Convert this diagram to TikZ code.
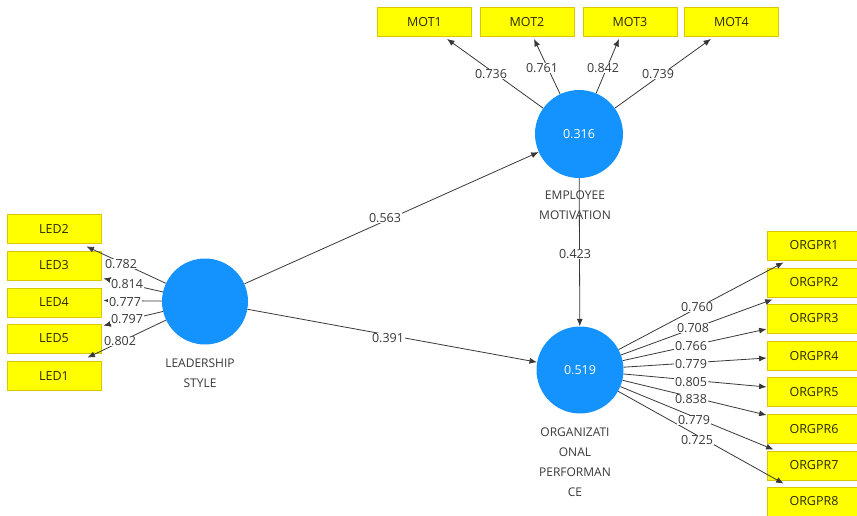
\documentclass[tikz,border=0pt]{standalone}
\usepackage{fontspec}
\setmainfont{Open Sans}
\usetikzlibrary{arrows.meta}
\definecolor{indfill}{HTML}{FFFF00}
\definecolor{indline}{HTML}{D9C800}
\definecolor{lvfill}{HTML}{1493FF}
\definecolor{lncol}{HTML}{383838}
\definecolor{indtext}{HTML}{2B2B00}
\tikzset{
  indbox/.style={rectangle, fill=indfill, draw=indline, line width=0.8pt,
    minimum width=94pt, minimum height=29pt, inner sep=0pt,
    text=indtext, font=\fontsize{12.5}{14}\selectfont},
  lvcirc/.style={circle, fill=lvfill, draw=none, minimum size=87pt, inner sep=0pt,
    text=white, font=\fontsize{12.5}{14}\selectfont},
  captxt/.style={align=center, text=lncol, font=\fontsize{12}{20}\selectfont, inner sep=0pt},
  coef/.style={fill=white, inner sep=0.8pt, text=lncol, font=\fontsize{12.5}{14}\selectfont},
  conn/.style={draw=lncol, line width=0.8pt, -{Latex[length=7.5pt,width=6pt]}},
}
\begin{document}
\begin{tikzpicture}[x=1pt,y=-1pt]
\useasboundingbox (0,0) rectangle (857,515);
% latent variables
\node[lvcirc, minimum size=86pt] (ls) at (205,301.5) {};
\node[lvcirc, minimum size=88pt] (em) at (579,134) {0.316};
\node[lvcirc] (op) at (580,370) {0.519};
% LED indicators
\node[indbox] (led2) at (54,229) {LED2};
\node[indbox] (led3) at (54,265.5) {LED3};
\node[indbox] (led4) at (54,302.5) {LED4};
\node[indbox] (led5) at (54,338.5) {LED5};
\node[indbox] (led1) at (54,376) {LED1};
% MOT indicators
\node[indbox] (mot1) at (424.5,22) {MOT1};
\node[indbox] (mot2) at (527,22) {MOT2};
\node[indbox] (mot3) at (630,22) {MOT3};
\node[indbox] (mot4) at (731.5,22) {MOT4};
% ORGPR indicators
\node[indbox] (org1) at (814,245.5) {ORGPR1};
\node[indbox] (org2) at (814,282.5) {ORGPR2};
\node[indbox] (org3) at (814,318.5) {ORGPR3};
\node[indbox] (org4) at (814,356) {ORGPR4};
\node[indbox] (org5) at (814,392) {ORGPR5};
\node[indbox] (org6) at (814,429) {ORGPR6};
\node[indbox] (org7) at (814,465.5) {ORGPR7};
\node[indbox] (org8) at (814,501.5) {ORGPR8};
% connectors LS -> LED
\draw[conn] (ls) -- ([xshift=-15pt,yshift=-2.5pt]led2.south east);
\draw[conn] (ls) -- ([xshift=2pt,yshift=2pt]led3.south east);
\draw[conn] (ls) -- ([xshift=2pt,yshift=2pt]led4.east);
\draw[conn] (ls) -- ([xshift=2pt,yshift=-2pt]led5.north east);
\draw[conn] (ls) -- ([xshift=-14pt,yshift=3.5pt]led1.north east);
% connectors EM -> MOT
\draw[conn] (em) -- ([xshift=22.5pt,yshift=-2pt]mot1.south);
\draw[conn] (em) -- ([xshift=7pt,yshift=-2pt]mot2.south);
\draw[conn] (em) -- ([xshift=-11pt,yshift=-2pt]mot3.south);
\draw[conn] (em) -- ([xshift=-20.5pt,yshift=-2pt]mot4.south);
% connectors OP -> ORGPR
\draw[conn] (op) -- ([xshift=17pt,yshift=-2pt]org1.south west);
\draw[conn] (op) -- ([xshift=6pt,yshift=-2pt]org2.south west);
\draw[conn] (op) -- ([yshift=-10.5pt]org3.west);
\draw[conn] (op) -- ([yshift=-2pt]org4.west);
\draw[conn] (op) -- ([yshift=5pt]org5.west);
\draw[conn] (op) -- ([yshift=-1pt]org6.north west);
\draw[conn] (op) -- ([xshift=7pt,yshift=1pt]org7.north west);
\draw[conn] (op) -- ([xshift=17pt,yshift=3pt]org8.north west);
% structural paths
\draw[conn] (ls) -- (em);
\draw[conn] (ls) -- (op);
\draw[conn] (em) -- (op);
% coefficient labels
\node[coef] (c1) at (121,264) {0.782};
\node[coef] (c2) at (127,284) {0.814};
\node[coef] (c3) at (125,302) {0.777};
\node[coef] (c4) at (127,319) {0.797};
\node[coef] (c5) at (120,341) {0.802};
\node[coef] (c6) at (491,74) {0.736};
\node[coef] (c7) at (542,68) {0.761};
\node[coef] (c8) at (603,68) {0.842};
\node[coef] (c9) at (658,74) {0.739};
\node[coef] (c10) at (697,307) {0.760};
\node[coef] (c11) at (693,328) {0.708};
\node[coef] (c12) at (691,346) {0.766};
\node[coef] (c13) at (691,364) {0.779};
\node[coef] (c14) at (691,382) {0.805};
\node[coef] (c15) at (691,399) {0.838};
\node[coef] (c16) at (694,420) {0.779};
\node[coef] (c17) at (697,440) {0.725};
\node[coef] (c18) at (385,218) {0.563};
\node[coef] (c19) at (388,338) {0.391};
\node[coef] (c20) at (575,254) {0.423};
% captions
\node[captxt] (capls) at (200,373) {LEADERSHIP\\STYLE};
\node[captxt] (capem) at (575,205) {EMPLOYEE\\MOTIVATION};
\node[captxt] (capop) at (575,462) {ORGANIZATI\\ONAL\\PERFORMAN\\CE};
\end{tikzpicture}
\end{document}
